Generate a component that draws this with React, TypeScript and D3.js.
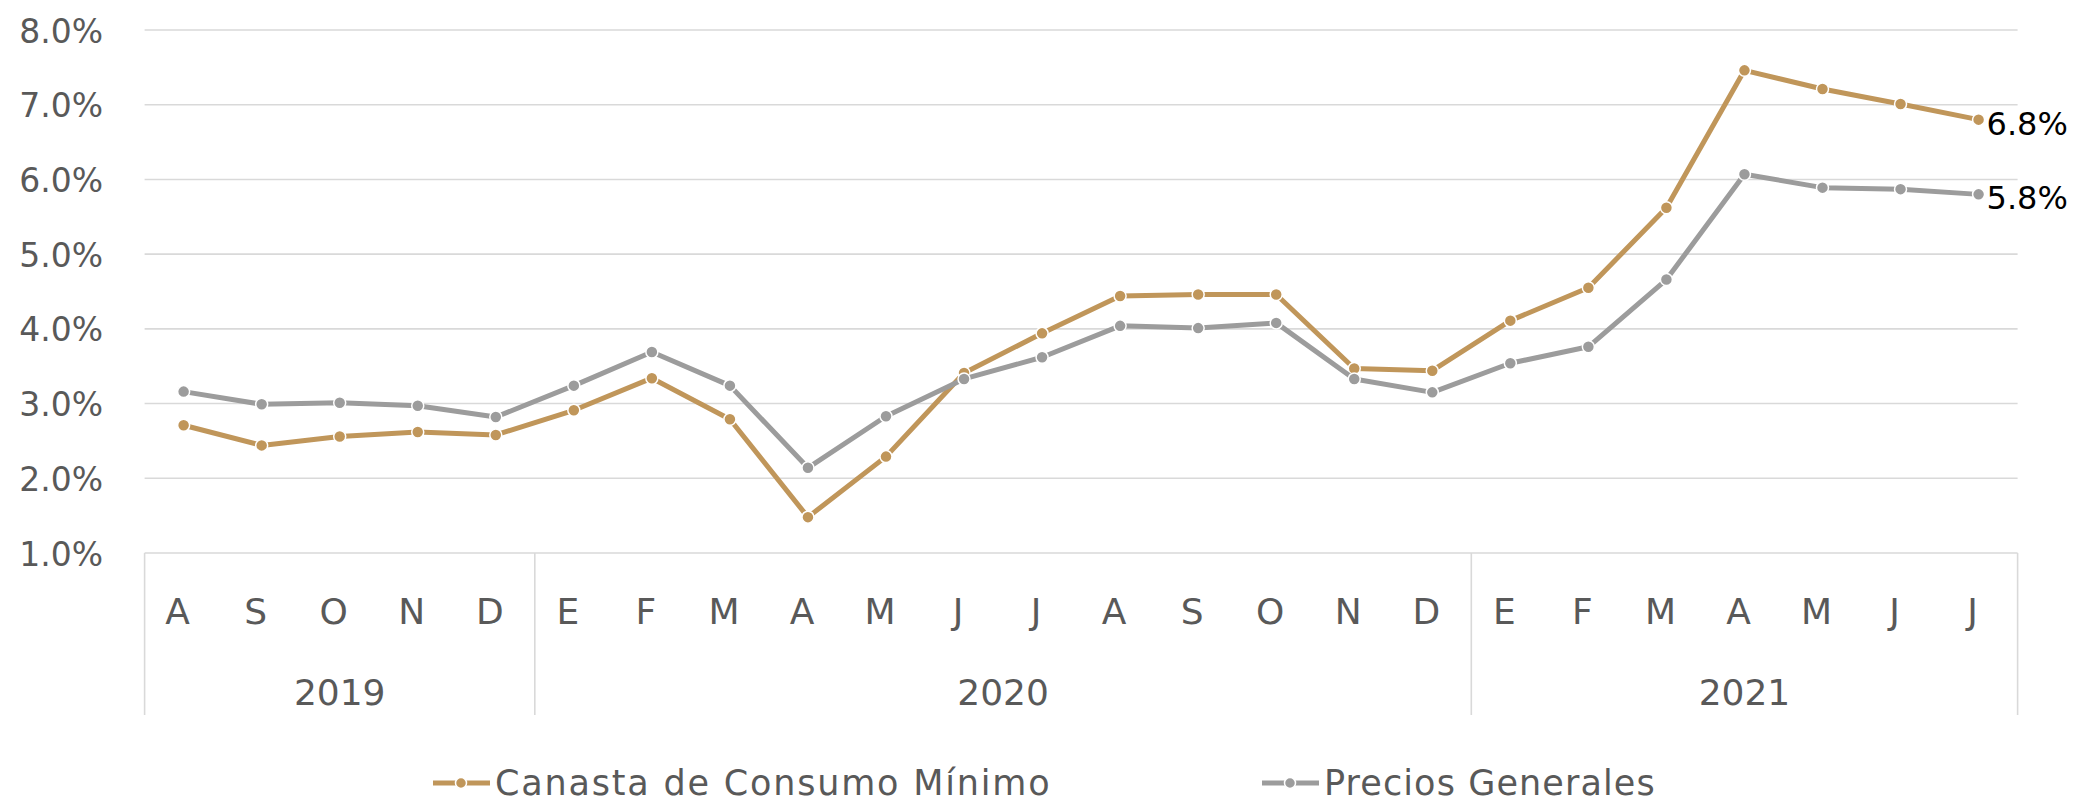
import React from "react";
import * as d3 from "d3";

const months = ["A","S","O","N","D","E","F","M","A","M","J","J","A","S","O","N","D","E","F","M","A","M","J","J"];
const yearGroups = [
  { label: "2019", count: 5 },
  { label: "2020", count: 12 },
  { label: "2021", count: 7 },
];
const canasta = [2.71,2.44,2.56,2.62,2.58,2.91,3.34,2.79,1.48,2.29,3.41,3.94,4.44,4.46,4.46,3.47,3.44,4.11,4.55,5.62,7.46,7.21,7.01,6.80];
const precios = [3.16,2.99,3.01,2.97,2.82,3.24,3.69,3.24,2.14,2.83,3.33,3.62,4.04,4.01,4.08,3.33,3.15,3.54,3.76,4.66,6.07,5.89,5.87,5.80];
const yTicks = [1,2,3,4,5,6,7,8];
const seriesNames = ["Canasta de Consumo Mínimo", "Precios Generales"];

const W = 2080, H = 802;
const GOLD = "#C0965A";
const GRAY = "#9C9C9C";
const TEXT = "#595959";
const GRID = "#D9D9D9";
const FONT = "'DejaVu Sans', sans-serif";
const WEIGHT = 400;

export default function App() {
  const left = 144.6, right = 2017.6, top = 30, bottom = 553;
  const idx = months.map((_, i) => i);
  const x = d3.scaleBand<number>().domain(idx).range([left, right]).padding(0);
  const cx = (i: number) => (x(i) as number) + x.bandwidth() / 2;
  const y = d3.scaleLinear().domain([1, 8]).range([bottom, top]);
  const line = d3.line<number>().x((_, i) => cx(i)).y((d) => y(d));

  const dividers: number[] = [0];
  let acc = 0;
  const groupCenters: { label: string; c: number }[] = [];
  yearGroups.forEach((g) => {
    const start = x(acc) as number;
    acc += g.count;
    const end = acc < months.length ? (x(acc) as number) : right;
    dividers.push(acc);
    groupCenters.push({ label: g.label, c: (start + end) / 2 });
  });
  const divX = (k: number) => (k < months.length ? (x(k) as number) : right);

  const series = [
    { name: seriesNames[0], data: canasta, color: GOLD },
    { name: seriesNames[1], data: precios, color: GRAY },
  ];

  const legendItems = [
    { name: seriesNames[0], color: GOLD, x0: 433, ls: 1.8 },
    { name: seriesNames[1], color: GRAY, x0: 1262, ls: 1.1 },
  ];

  return (
    <svg width={W} height={H} style={{ position: "absolute", left: 0, top: 0, background: "#fff" }}>
      {yTicks.map((t) => (
        <g key={t}>
          <line x1={left} x2={right} y1={y(t)} y2={y(t)} stroke={GRID} strokeWidth={1.6} />
          <text x={103} y={y(t) + 12.5} textAnchor="end" fontFamily={FONT} fontSize={33} fill={TEXT} fontWeight={WEIGHT}>
            {d3.format(".1f")(t) + "%"}
          </text>
        </g>
      ))}
      {dividers.map((k) => (
        <line key={"d" + k} x1={divX(k)} x2={divX(k)} y1={bottom} y2={715} stroke={GRID} strokeWidth={1.6} />
      ))}
      {months.map((m, i) => (
        <text key={"m" + i} x={cx(i) - 6} y={624} textAnchor="middle" fontFamily={FONT} fontSize={36} fill={TEXT} fontWeight={WEIGHT}>
          {m}
        </text>
      ))}
      {groupCenters.map((g) => (
        <text key={g.label} x={g.c} y={705} textAnchor="middle" fontFamily={FONT} fontSize={36} fill={TEXT} fontWeight={WEIGHT}>
          {g.label}
        </text>
      ))}
      {series.map((s) => (
        <g key={s.name}>
          <path d={line(s.data) || ""} fill="none" stroke={s.color} strokeWidth={5} strokeLinejoin="round" />
          {s.data.map((v, i) => (
            <circle key={i} cx={cx(i)} cy={y(v)} r={6} fill={s.color} stroke="#fff" strokeWidth={1.5} />
          ))}
          <text
            x={cx(s.data.length - 1) + 8}
            y={y(s.data[s.data.length - 1]) + 15}
            fontFamily={FONT}
            fontSize={32}
            fill="#000"
          >
            {d3.format(".1f")(s.data[s.data.length - 1]) + "%"}
          </text>
        </g>
      ))}
      {legendItems.map((l) => (
        <g key={l.name}>
          <line x1={l.x0} x2={l.x0 + 57} y1={783} y2={783} stroke={l.color} strokeWidth={5} />
          <circle cx={l.x0 + 28} cy={783} r={5.5} fill={l.color} stroke="#fff" strokeWidth={1.5} />
          <text x={l.x0 + 62} y={795} fontFamily={FONT} fontSize={35} fill={TEXT} fontWeight={WEIGHT} letterSpacing={l.ls}>
            {l.name}
          </text>
        </g>
      ))}
    </svg>
  );
}
